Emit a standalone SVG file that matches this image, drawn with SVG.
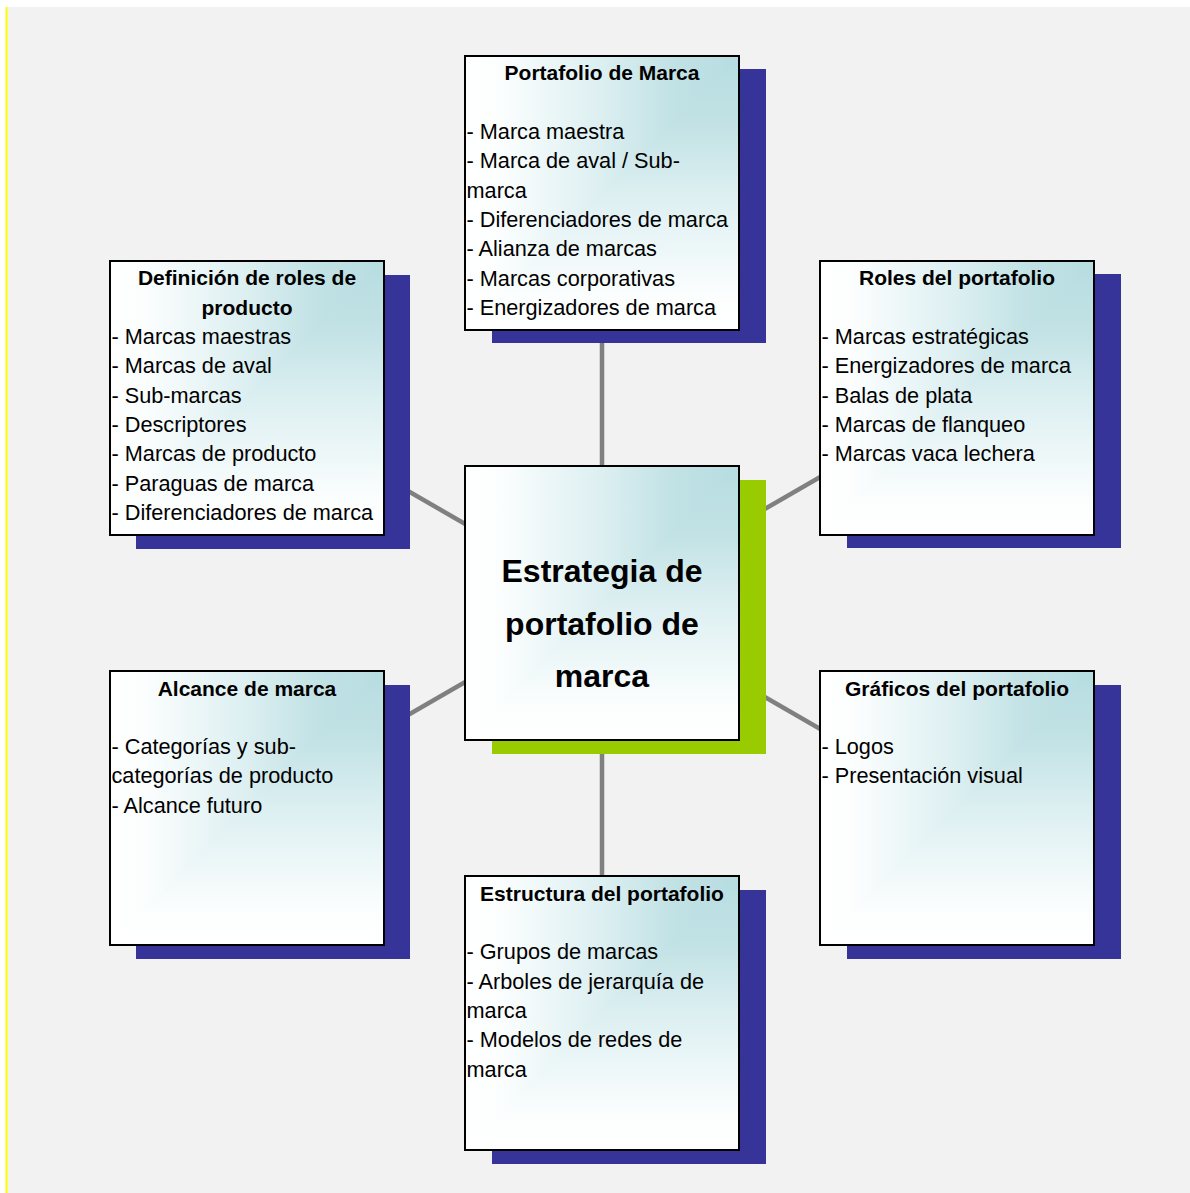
<svg xmlns="http://www.w3.org/2000/svg" width="1190" height="1193" viewBox="0 0 1190 1193">
<defs>
<linearGradient id="gh" x1="0" y1="0" x2="1" y2="0">
<stop offset="0" stop-color="#ffffff"/>
<stop offset="0.12" stop-color="#fcfefe"/>
<stop offset="0.5" stop-color="#dceff1"/>
<stop offset="0.75" stop-color="#c2e2e5"/>
<stop offset="1" stop-color="#b7dde1"/>
</linearGradient>
<linearGradient id="gv" x1="0" y1="1" x2="0" y2="0">
<stop offset="0" stop-color="#ffffff"/>
<stop offset="0.12" stop-color="#fcfefe"/>
<stop offset="0.5" stop-color="#dceff1"/>
<stop offset="0.75" stop-color="#c2e2e5"/>
<stop offset="1" stop-color="#b7dde1"/>
</linearGradient>
</defs>
<style>
.shadow{fill:#363399}
.shadowg{fill:#99cc00}
.faceh{fill:url(#gh)}
.facev{fill:url(#gv)}
.border{fill:none;stroke:#000;stroke-width:2}
.title{font-family:"Liberation Sans",Arial,sans-serif;font-weight:bold;font-size:21px;fill:#000;text-anchor:middle}
.ctitle{font-family:"Liberation Sans",Arial,sans-serif;font-weight:bold;font-size:32px;fill:#000;text-anchor:middle}
.body{font-family:"Liberation Sans",Arial,sans-serif;font-size:21.7px;fill:#000}
.conn{stroke:#808080;stroke-width:4.5;fill:none}
</style>
<rect x="0" y="0" width="1190" height="1193" fill="#ffffff"/>
<rect x="7" y="7" width="1183" height="1186" fill="#f2f2f2"/>
<line x1="6.5" y1="7" x2="6.5" y2="1193" stroke="#ffff00" stroke-width="2"/>

<g id="connectors">
<line class="conn" x1="602" y1="603" x2="602" y2="193"/>
<line class="conn" x1="602" y1="603" x2="602" y2="1013"/>
<line class="conn" x1="602" y1="603" x2="247" y2="398"/>
<line class="conn" x1="602" y1="603" x2="957" y2="398"/>
<line class="conn" x1="602" y1="603" x2="247" y2="808"/>
<line class="conn" x1="602" y1="603" x2="957" y2="808"/>
</g>

<g id="node-portafolio-marca">
<rect class="shadow" x="492" y="69" width="274" height="274"/>
<rect class="faceh" x="465" y="56" width="274" height="274"/>
<polygon class="facev" points="739,56 739,330 465,330"/>
<rect class="border" x="465" y="56" width="274" height="274"/>
<text class="title" x="602" y="79.5">Portafolio de Marca</text>
<text class="body" x="466.5" y="139">- Marca maestra</text>
<text class="body" x="466.5" y="168.3">- Marca de aval / Sub-</text>
<text class="body" x="466.5" y="197.6">marca</text>
<text class="body" x="466.5" y="226.9">- Diferenciadores de marca</text>
<text class="body" x="466.5" y="256.2">- Alianza de marcas</text>
<text class="body" x="466.5" y="285.5">- Marcas corporativas</text>
<text class="body" x="466.5" y="314.8">- Energizadores de marca</text>
</g>

<g id="node-definicion-roles">
<rect class="shadow" x="136" y="275" width="274" height="274"/>
<rect class="faceh" x="110" y="261" width="274" height="274"/>
<polygon class="facev" points="384,261 384,535 110,535"/>
<rect class="border" x="110" y="261" width="274" height="274"/>
<text class="title" x="247" y="285">Definición de roles de</text>
<text class="title" x="247" y="314.5">producto</text>
<text class="body" x="111.5" y="344">- Marcas maestras</text>
<text class="body" x="111.5" y="373.3">- Marcas de aval</text>
<text class="body" x="111.5" y="402.6">- Sub-marcas</text>
<text class="body" x="111.5" y="431.9">- Descriptores</text>
<text class="body" x="111.5" y="461.2">- Marcas de producto</text>
<text class="body" x="111.5" y="490.5">- Paraguas de marca</text>
<text class="body" x="111.5" y="519.8">- Diferenciadores de marca</text>
</g>

<g id="node-roles-portafolio">
<rect class="shadow" x="847" y="274" width="274" height="274"/>
<rect class="faceh" x="820" y="261" width="274" height="274"/>
<polygon class="facev" points="1094,261 1094,535 820,535"/>
<rect class="border" x="820" y="261" width="274" height="274"/>
<text class="title" x="957" y="285">Roles del portafolio</text>
<text class="body" x="821.5" y="344">- Marcas estratégicas</text>
<text class="body" x="821.5" y="373.3">- Energizadores de marca</text>
<text class="body" x="821.5" y="402.6">- Balas de plata</text>
<text class="body" x="821.5" y="431.9">- Marcas de flanqueo</text>
<text class="body" x="821.5" y="461.2">- Marcas vaca lechera</text>
</g>

<g id="node-estrategia">
<rect class="shadowg" x="492" y="480" width="274" height="274"/>
<rect class="faceh" x="465" y="466" width="274" height="274"/>
<polygon class="facev" points="739,466 739,740 465,740"/>
<rect class="border" x="465" y="466" width="274" height="274"/>
<text class="ctitle" x="602" y="582">Estrategia de</text>
<text class="ctitle" x="602" y="635">portafolio de</text>
<text class="ctitle" x="602" y="687">marca</text>
</g>

<g id="node-alcance">
<rect class="shadow" x="136" y="685" width="274" height="274"/>
<rect class="faceh" x="110" y="671" width="274" height="274"/>
<polygon class="facev" points="384,671 384,945 110,945"/>
<rect class="border" x="110" y="671" width="274" height="274"/>
<text class="title" x="247" y="696">Alcance de marca</text>
<text class="body" x="111.5" y="754">- Categorías y sub-</text>
<text class="body" x="111.5" y="783.3">categorías de producto</text>
<text class="body" x="111.5" y="812.6">- Alcance futuro</text>
</g>

<g id="node-graficos">
<rect class="shadow" x="847" y="685" width="274" height="274"/>
<rect class="faceh" x="820" y="671" width="274" height="274"/>
<polygon class="facev" points="1094,671 1094,945 820,945"/>
<rect class="border" x="820" y="671" width="274" height="274"/>
<text class="title" x="957" y="696">Gráficos del portafolio</text>
<text class="body" x="821.5" y="754">- Logos</text>
<text class="body" x="821.5" y="783.3">- Presentación visual</text>
</g>

<g id="node-estructura">
<rect class="shadow" x="492" y="890" width="274" height="274"/>
<rect class="faceh" x="465" y="876" width="274" height="274"/>
<polygon class="facev" points="739,876 739,1150 465,1150"/>
<rect class="border" x="465" y="876" width="274" height="274"/>
<text class="title" x="602" y="901">Estructura del portafolio</text>
<text class="body" x="466.5" y="959.3">- Grupos de marcas</text>
<text class="body" x="466.5" y="988.6">- Arboles de jerarquía de</text>
<text class="body" x="466.5" y="1017.9">marca</text>
<text class="body" x="466.5" y="1047.2">- Modelos de redes de</text>
<text class="body" x="466.5" y="1076.5">marca</text>
</g>
</svg>
